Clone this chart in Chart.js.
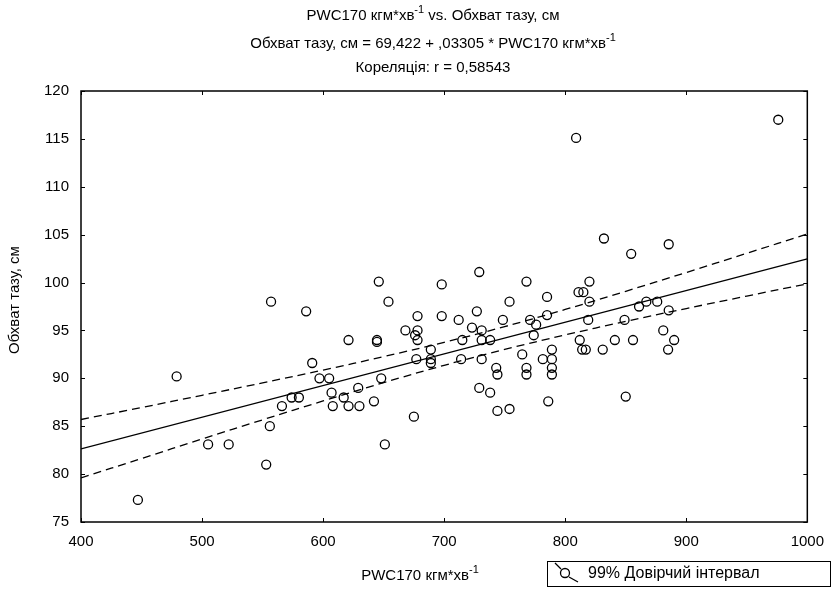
<!DOCTYPE html>
<html>
<head>
<meta charset="utf-8">
<script src="https://cdn.jsdelivr.net/npm/chart.js@4/dist/chart.umd.min.js"></script>
<style>
  html, body { margin: 0; padding: 0; background: #fff; }
  canvas { display: block; }
</style>
</head>
<body>
<canvas id="chart" width="835" height="589"></canvas>
<script>
// PWC170 (x) and hip girth (y) for each subject
const pwcValues = [
  447, 479, 505, 522, 553, 556, 566, 574, 580, 591, 597, 605, 607, 608, 617,
  557, 586, 621, 629, 646, 729, 698, 654, 678, 698, 727, 712, 723, 731, 668,
  678, 676, 678, 644.5, 644.5, 715, 731, 738, 689, 677, 689, 689, 714, 731, 743,
  744, 648, 621, 630, 642, 729, 738, 744, 675, 651, 768, 820, 785, 811, 815,
  820, 754, 861, 867, 876, 885.5, 748.5, 771, 785, 776, 819, 849, 774, 812, 841,
  856, 881, 890, 885, 814, 817, 831, 789, 764.5, 781.5, 789, 789, 789, 768, 768,
  754, 786, 850, 885.5, 809, 976, 832, 854.5,
];
const hipValues = [
  77.3, 90.2, 83.1, 83.1, 81.0, 85.0, 87.1, 88.0, 88.0, 91.6, 90.0, 90.0, 88.5, 87.1, 88.0,
  98.0, 97.0, 94.0, 89.0, 100.1, 101.1, 99.8, 98.0, 96.5, 96.5, 97.0, 96.1, 95.3, 95.0, 95.0,
  95.0, 94.5, 94.0, 94.0, 93.8, 94.0, 94.0, 94.0, 93.0, 92.0, 92.0, 91.6, 92.0, 92.0, 91.1,
  90.4, 90.0, 87.1, 87.1, 87.6, 89.0, 88.5, 86.6, 86.0, 83.1, 100.1, 100.1, 98.5, 99.0, 99.0,
  98.0, 98.0, 97.5, 98.0, 98.0, 97.1, 96.1, 96.1, 96.6, 95.6, 96.1, 96.1, 94.5, 94.0, 94.0,
  94.0, 95.0, 94.0, 93.0, 93.0, 93.0, 93.0, 93.0, 92.5, 92.0, 92.0, 91.1, 90.4, 91.1, 90.4,
  86.8, 87.6, 88.1, 104.0, 115.1, 117.0, 104.6, 103.0,
];

// fitted line ends
const fitX = [400, 1000];
const fitY = [82.64, 102.47];

// 99% confidence band, read at these x positions
const bandX = [400, 450, 500, 550, 600, 650, 700, 750, 800, 850, 900, 950, 1000];
const upperBand = [85.7, 86.95, 88.23, 89.53, 90.86, 92.27, 93.76, 95.4, 97.19, 99.09, 101.05, 103.05, 105.07];
const lowerBand = [79.6, 81.63, 83.67, 85.67, 87.64, 89.55, 91.36, 93.02, 94.53, 95.95, 97.29, 98.59, 99.87];

const FONT = "'Liberation Sans', Arial, sans-serif";

const toPoints = (xs, ys) => xs.map((x, i) => ({ x, y: ys[i] }));

// draw text with a "-1" superscript piece, centred on cx
function drawRich(ctx, parts, cx, cy, size) {
  const big = `${size}px ${FONT}`;
  const small = `${Math.round(size * 0.72)}px ${FONT}`;
  let total = 0;
  parts.forEach((p) => {
    ctx.font = p.sup ? small : big;
    total += ctx.measureText(p.t).width;
  });
  let x = cx - total / 2;
  ctx.textBaseline = 'middle';
  ctx.textAlign = 'left';
  parts.forEach((p) => {
    ctx.font = p.sup ? small : big;
    ctx.fillText(p.t, x, p.sup ? cy - size * 0.38 : cy);
    x += ctx.measureText(p.t).width;
  });
}

const framePlugin = {
  id: 'frame',
  afterDraw(chart) {
    const { ctx, chartArea: a, scales } = chart;
    ctx.save();
    ctx.strokeStyle = '#000';
    ctx.fillStyle = '#000';
    ctx.lineWidth = 1.5;
    ctx.strokeRect(a.left, a.top, a.right - a.left, a.bottom - a.top);

    // inward tick marks on all four sides
    ctx.lineWidth = 1;
    ctx.beginPath();
    scales.x.ticks.forEach((t) => {
      const px = Math.round(scales.x.getPixelForValue(t.value)) + 0.5;
      ctx.moveTo(px, a.bottom); ctx.lineTo(px, a.bottom - 4);
      ctx.moveTo(px, a.top); ctx.lineTo(px, a.top + 4);
    });
    scales.y.ticks.forEach((t) => {
      const py = Math.round(scales.y.getPixelForValue(t.value)) + 0.5;
      ctx.moveTo(a.left, py); ctx.lineTo(a.left + 4, py);
      ctx.moveTo(a.right, py); ctx.lineTo(a.right - 4, py);
    });
    ctx.stroke();

    // titles
    drawRich(ctx, [
      { t: 'PWC170 кгм*хв' }, { t: '-1', sup: true }, { t: ' vs. Обхват тазу, см' },
    ], 433, 16, 15);
    drawRich(ctx, [
      { t: 'Обхват тазу, см = 69,422 + ,03305 * PWC170 кгм*хв' }, { t: '-1', sup: true },
    ], 433, 44, 15);
    drawRich(ctx, [{ t: 'Кореляція: r = 0,58543' }], 433, 68, 15);

    // axis titles
    drawRich(ctx, [{ t: 'PWC170 кгм*хв' }, { t: '-1', sup: true }], 420, 576, 15);
    ctx.save();
    ctx.translate(15, 300);
    ctx.rotate(-Math.PI / 2);
    drawRich(ctx, [{ t: 'Обхват тазу, см' }], 0, 0, 15);
    ctx.restore();

    // legend box
    ctx.lineWidth = 1;
    ctx.strokeRect(547.5, 561.5, 283, 25);
    ctx.lineWidth = 1.3;
    ctx.beginPath();
    ctx.moveTo(555, 563);
    ctx.lineTo(561, 569);
    ctx.moveTo(569, 577);
    ctx.lineTo(578, 582);
    ctx.stroke();
    ctx.beginPath();
    ctx.arc(565, 573, 4.5, 0, Math.PI * 2);
    ctx.stroke();
    ctx.font = `16px ${FONT}`;
    ctx.textAlign = 'left';
    ctx.textBaseline = 'middle';
    ctx.fillText('99% Довірчий інтервал', 588, 574);
    ctx.restore();
  },
};

const ctx = document.getElementById('chart').getContext('2d');
new Chart(ctx, {
  type: 'scatter',
  data: {
    datasets: [
      {
        data: toPoints(pwcValues, hipValues),
        pointRadius: 4.5,
        pointBorderWidth: 1.3,
        pointBorderColor: '#000',
        pointBackgroundColor: 'rgba(0,0,0,0)',
        showLine: false,
      },
      {
        data: toPoints(fitX, fitY),
        showLine: true,
        borderColor: '#000',
        borderWidth: 1.3,
        pointRadius: 0,
      },
      {
        data: toPoints(bandX, upperBand),
        showLine: true,
        borderColor: '#000',
        borderWidth: 1.3,
        borderDash: [8, 5],
        tension: 0.4,
        pointRadius: 0,
      },
      {
        data: toPoints(bandX, lowerBand),
        showLine: true,
        borderColor: '#000',
        borderWidth: 1.3,
        borderDash: [8, 5],
        tension: 0.4,
        pointRadius: 0,
      },
    ],
  },
  options: {
    responsive: false,
    animation: false,
    devicePixelRatio: 1,
    events: [],
    layout: { padding: { left: 0, right: 27, top: 91, bottom: 0 } },
    plugins: {
      legend: { display: false },
      title: { display: false },
      tooltip: { enabled: false },
    },
    scales: {
      x: {
        type: 'linear',
        min: 400,
        max: 1000,
        grid: { display: false, drawTicks: false },
        border: { display: false },
        ticks: {
          stepSize: 100,
          padding: 11,
          color: '#000',
          font: { family: FONT, size: 15 },
          callback: (v) => String(v),
        },
        afterFit(scale) { scale.height = 67; },
      },
      y: {
        min: 75,
        max: 120,
        grid: { display: false, drawTicks: false },
        border: { display: false },
        ticks: {
          stepSize: 5,
          padding: 12,
          color: '#000',
          font: { family: FONT, size: 15 },
          callback: (v) => String(v),
        },
        afterFit(scale) { scale.width = 81; },
      },
    },
  },
  plugins: [framePlugin],
});
</script>
</body>
</html>
